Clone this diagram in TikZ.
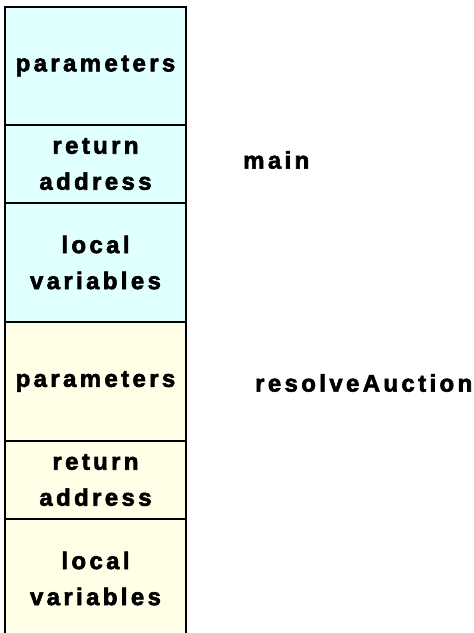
\documentclass[tikz,border=0pt]{standalone}
\usepackage{fontspec}
\setmainfont{Liberation Sans}
\newfontfamily\stackfont[LetterSpace=14,FakeBold=2.5]{Liberation Sans Bold}
\usetikzlibrary{positioning}
\definecolor{maincol}{HTML}{E0FFFF}
\definecolor{callcol}{HTML}{FFFFE8}
\tikzset{
  slot/.style={draw, line width=1.6pt, minimum width=181pt, outer sep=0pt,
    align=center, inner sep=0pt,
    font=\stackfont\fontsize{24}{36}\selectfont},
  mainslot/.style={slot, fill=maincol},
  callslot/.style={slot, fill=callcol},
  framelabel/.style={anchor=west, inner sep=0pt,
    font=\stackfont\fontsize{24}{36}\selectfont}
}
\begin{document}
\begin{tikzpicture}[x=1pt,y=-1pt]
        \useasboundingbox (0,0) rectangle (474,633);
        \clip (0,0) rectangle (474,633);

        % Frame of main
        \node[mainslot, minimum height=118pt, anchor=north west] (mparams) at (5,7) {parameters};
        \node[mainslot, minimum height=78pt, below=0pt of mparams] (mret) {return\\address};
        \node[mainslot, minimum height=119pt, below=0pt of mret] (mlocals) {local\\variables};

        % Frame of resolveAuction
        \node[callslot, minimum height=119pt, below=0pt of mlocals] (rparams) {parameters};
        \node[callslot, minimum height=78pt, below=0pt of rparams] (rret) {return\\address};
        \node[callslot, minimum height=119pt, below=0pt of rret] (rlocals) {local\\variables};

        % Frame names
        \node[framelabel] (mainname) at (243,160) {main};
        \node[framelabel] (callname) at (255,383) {resolveAuction};
    \end{tikzpicture}
\end{document}
